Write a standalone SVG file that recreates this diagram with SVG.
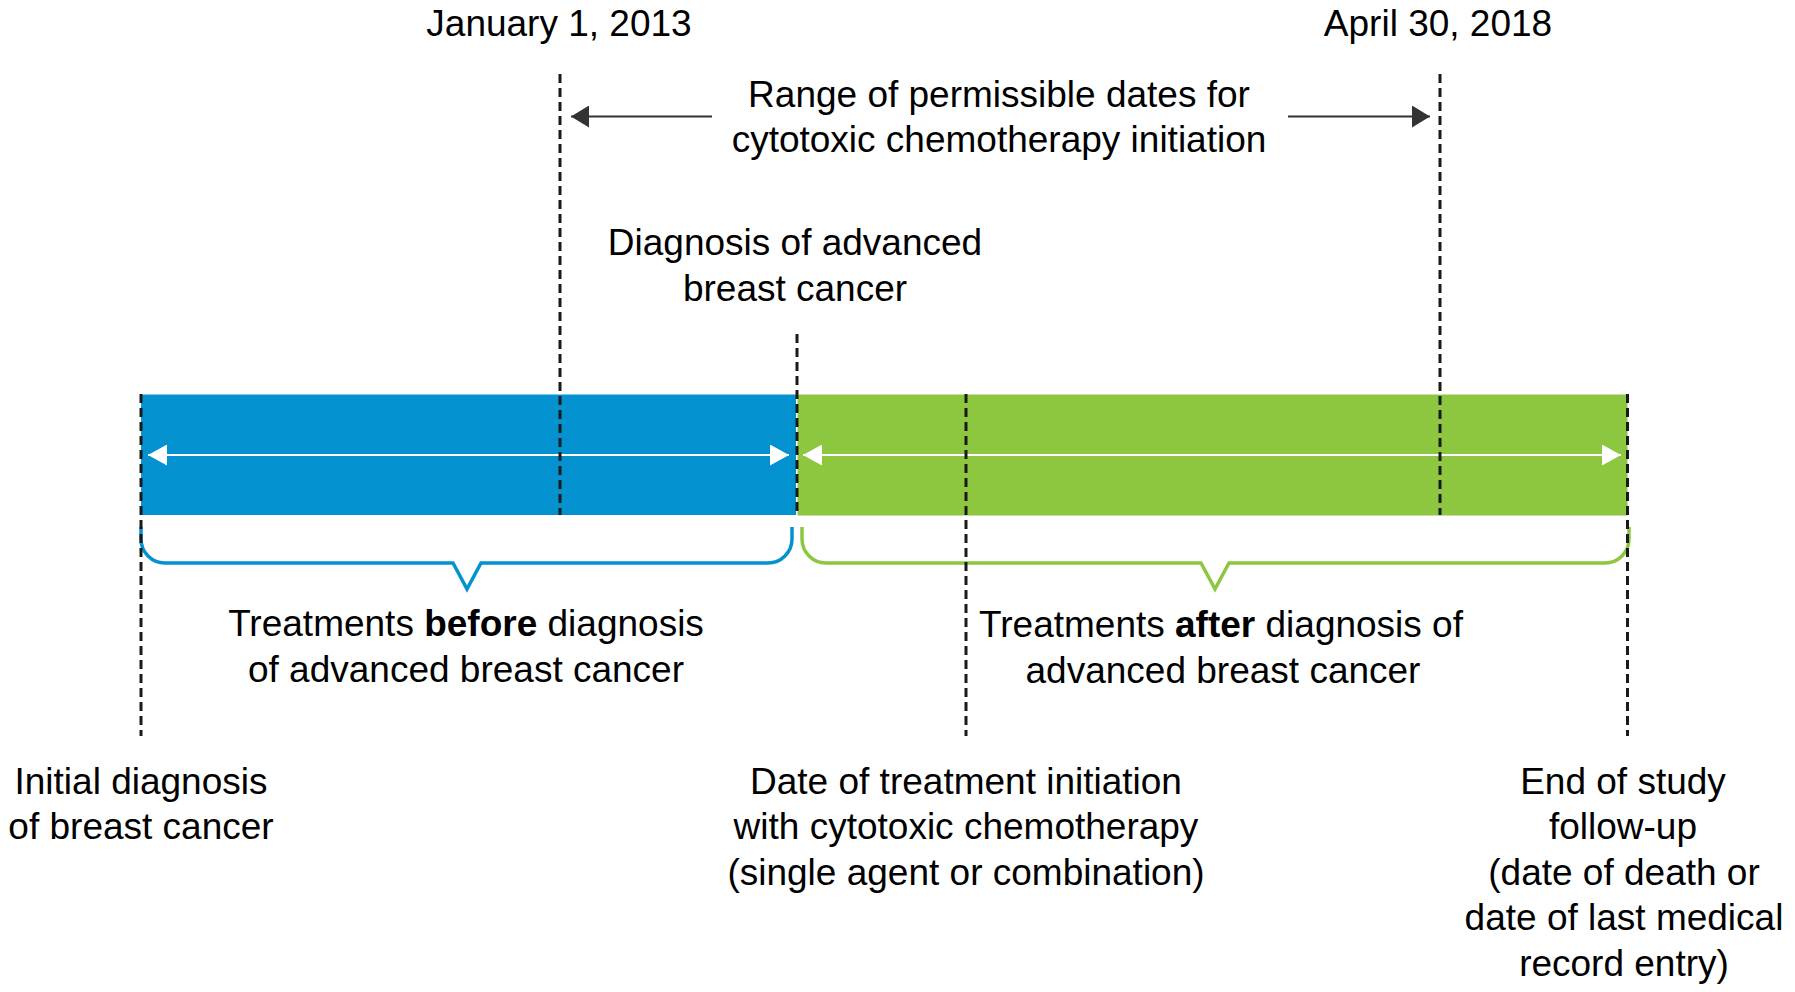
<svg xmlns="http://www.w3.org/2000/svg" width="1795" height="992" viewBox="0 0 1795 992">
<defs>
<style>
text{font-family:"Liberation Sans",Arial,sans-serif;font-size:37px;fill:#000;text-anchor:middle}
.b{font-weight:bold}
.dash{stroke:#1a1a1a;stroke-width:3;stroke-dasharray:9 5;fill:none}
.wl{stroke:#fff;stroke-width:2.2;fill:none}
.gl{stroke:#333;stroke-width:2.2;fill:none}
.brace{fill:none;stroke-width:3.5;stroke-linejoin:miter}
</style>
<marker id="wh" viewBox="0 0 19 21" refX="19" refY="10.5" markerWidth="19" markerHeight="21" markerUnits="userSpaceOnUse" orient="auto-start-reverse">
<path d="M0,0 L19,10.5 L0,21 Z" fill="#fff"/>
</marker>
<marker id="dk" viewBox="0 0 18 22" refX="18" refY="11" markerWidth="18" markerHeight="22" markerUnits="userSpaceOnUse" orient="auto-start-reverse">
<path d="M0,0 L18,11 L0,22 Z" fill="#333"/>
</marker>
</defs>
<rect width="1795" height="992" fill="#fff"/>

<g id="bar-before">
<rect x="141" y="394.5" width="655" height="120.5" fill="#0392cf"/>
</g>
<g id="bar-after">
<rect x="797.5" y="394.5" width="830" height="121" fill="#8dc63f"/>
</g>

<g id="connectors">
<line class="wl" x1="148" y1="455" x2="789" y2="455" marker-start="url(#wh)" marker-end="url(#wh)"/>
<line class="wl" x1="803" y1="455" x2="1621" y2="455" marker-start="url(#wh)" marker-end="url(#wh)"/>
<line class="gl" x1="712" y1="116.5" x2="571" y2="116.5" marker-end="url(#dk)"/>
<line class="gl" x1="1288" y1="116.5" x2="1430" y2="116.5" marker-end="url(#dk)"/>
<path class="brace" stroke="#0392cf" d="M141,527 V539 A24,24 0 0 0 165,563 H453 L467,589 L481,563 H768 A24,24 0 0 0 792,539 V527"/>
<path class="brace" stroke="#8dc63f" d="M802,527 V539 A24,24 0 0 0 826,563 H1201 L1215,589 L1229,563 H1605 A24,24 0 0 0 1629,539 V527"/>
<line class="dash" x1="141" y1="394" x2="141" y2="736"/>
<line class="dash" x1="560" y1="74" x2="560" y2="515"/>
<line class="dash" x1="797" y1="334" x2="797" y2="515"/>
<line class="dash" x1="966" y1="394" x2="966" y2="736"/>
<line class="dash" x1="1440" y1="74" x2="1440" y2="515"/>
<line class="dash" x1="1627.5" y1="394" x2="1627.5" y2="736"/>
</g>

<g id="date-start"><text x="559" y="36">January 1, 2013</text></g>
<g id="date-end"><text x="1438" y="36">April 30, 2018</text></g>
<g id="range-label">
<text x="999" y="106.5">Range of permissible dates for</text>
<text x="999" y="152">cytotoxic chemotherapy initiation</text>
</g>
<g id="advanced-dx">
<text x="795" y="255">Diagnosis of advanced</text>
<text x="795" y="300.5">breast cancer</text>
</g>
<g id="before-label">
<text x="466" y="636">Treatments <tspan class="b">before</tspan> diagnosis</text>
<text x="466" y="681.5">of advanced breast cancer</text>
</g>
<g id="after-label">
<text x="1221" y="637">Treatments <tspan class="b">after</tspan> diagnosis of</text>
<text x="1223" y="682.5">advanced breast cancer</text>
</g>
<g id="initial-dx">
<text x="141" y="793.5">Initial diagnosis</text>
<text x="141" y="839">of breast cancer</text>
</g>
<g id="treatment-start">
<text x="966" y="793.5">Date of treatment initiation</text>
<text x="966" y="839">with cytotoxic chemotherapy</text>
<text x="966" y="884.5">(single agent or combination)</text>
</g>
<g id="end-followup">
<text x="1623" y="793.5">End of study</text>
<text x="1623" y="839">follow-up</text>
<text x="1624" y="884.5">(date of death or</text>
<text x="1624" y="930">date of last medical</text>
<text x="1624" y="975.5">record entry)</text>
</g>
</svg>
